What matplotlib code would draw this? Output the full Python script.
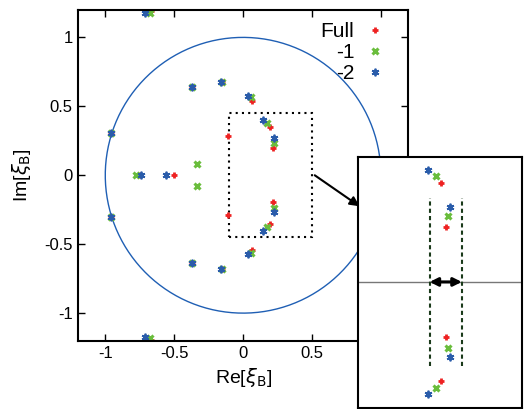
import matplotlib.pyplot as plt
import matplotlib.patches as patches
import numpy as np

plt.rcParams['font.family'] = ['Liberation Sans', 'DejaVu Sans']

# roots in the complex xi_B plane
full_re = [-0.67, -0.67, -0.956, -0.956, -0.75, -0.503, -0.374, -0.374,
           -0.155, -0.155, 0.063, 0.063, -0.111, -0.111, 0.197, 0.197, 0.214, 0.214]
full_im = [1.195, -1.195, 0.304, -0.304, 0.0, 0.0, 0.637, -0.637,
           0.677, -0.677, 0.542, -0.542, 0.285, -0.285, 0.353, -0.353, 0.195, -0.195]

m1_re = [-0.672, -0.672, -0.956, -0.956, -0.779, -0.337, -0.337, -0.374, -0.374,
         -0.155, -0.155, 0.058, 0.058, 0.177, 0.177, 0.221, 0.221]
m1_im = [1.18, -1.18, 0.304, -0.304, 0.0, 0.08, -0.08, 0.637, -0.637,
         0.677, -0.677, 0.564, -0.564, 0.377, -0.377, 0.236, -0.236]

m2_re = [-0.714, -0.714, -0.956, -0.956, -0.738, -0.561, -0.374, -0.374,
         -0.16, -0.16, 0.039, 0.039, 0.148, 0.148, 0.228, 0.228]
m2_im = [1.175, -1.175, 0.304, -0.304, 0.0, 0.0, 0.637, -0.637,
         0.677, -0.677, 0.572, -0.572, 0.401, -0.401, 0.268, -0.268]

red = '#ee2222'
green = '#6abd3c'
blue = '#2a5caa'

fig = plt.figure(figsize=(5.25, 4.09), dpi=100)
ax = fig.add_axes([0.148, 0.167, 0.63, 0.809])


def draw_points(a, ms):
    a.plot(full_re, full_im, ls='none', marker='+', color=red, ms=ms, mew=2.0, label='Full')
    a.plot(m1_re, m1_im, ls='none', marker='x', color=green, ms=ms * 0.9, mew=2.2, label='-1')
    a.plot(m2_re, m2_im, ls='none', marker=(6, 2, 0), color=blue, ms=ms * 1.1, mew=1.3,
           label='-2')


# unit circle
t = np.linspace(0, 2 * np.pi, 400)
ax.plot(np.cos(t), np.sin(t), color='#1f5fb4', lw=1.0)
draw_points(ax, 5)

# zoom box
ax.add_patch(patches.Rectangle((-0.1, -0.45), 0.6, 0.9, fill=False,
                               ls=(0, (1, 2)), lw=1.5, ec='black'))
ax.annotate('', xy=(0.845, -0.225), xytext=(0.52, 0.0),
            arrowprops=dict(arrowstyle='-|>', color='black', lw=1.5,
                            mutation_scale=14, shrinkA=0, shrinkB=0),
            annotation_clip=False)

ax.set_xlim(-1.2, 1.2)
ax.set_ylim(-1.2, 1.2)
ax.set_xticks([-1, -0.5, 0, 0.5, 1])
ax.set_yticks([-1, -0.5, 0, 0.5, 1])
ax.set_xticklabels(['-1', '-0.5', '0', '0.5', '1'])
ax.set_yticklabels(['-1', '-0.5', '0', '0.5', '1'])
ax.tick_params(direction='in', top=True, right=True, length=5, width=1, labelsize=12)
for s in ax.spines.values():
    s.set_linewidth(1.5)
ax.set_xlabel(r'Re[$\xi_\mathrm{B}$]', fontsize=14, labelpad=4)
ax.set_ylabel(r'Im[$\xi_\mathrm{B}$]', fontsize=14, labelpad=8)
ax.legend(loc='upper right', bbox_to_anchor=(0.95, 0.988), frameon=False,
          markerfirst=False, fontsize=15, handlelength=0.8, handletextpad=0.6,
          labelspacing=0.1, borderaxespad=0.1, borderpad=0.3)

# inset
ins = fig.add_axes([0.682, 0.003, 0.312, 0.614])
ins.axhline(0, color='#777777', lw=1.0)
draw_points(ins, 5)
for xv in [0.155, 0.27]:
    ins.plot([xv, xv], [-0.3, 0.3], color='#1a3a1a', ls=(0, (2, 1.5)), lw=1.5)
ins.annotate('', xy=(0.27, 0.0), xytext=(0.155, 0.0),
             arrowprops=dict(arrowstyle='<|-|>', color='black', lw=2.2,
                             mutation_scale=12, shrinkA=0, shrinkB=0))
ins.set_xlim(-0.1, 0.484)
ins.set_ylim(-0.449, 0.447)
ins.set_xticks([])
ins.set_yticks([])
for s in ins.spines.values():
    s.set_linewidth(1.5)

fig.savefig('out.png', dpi=100)
